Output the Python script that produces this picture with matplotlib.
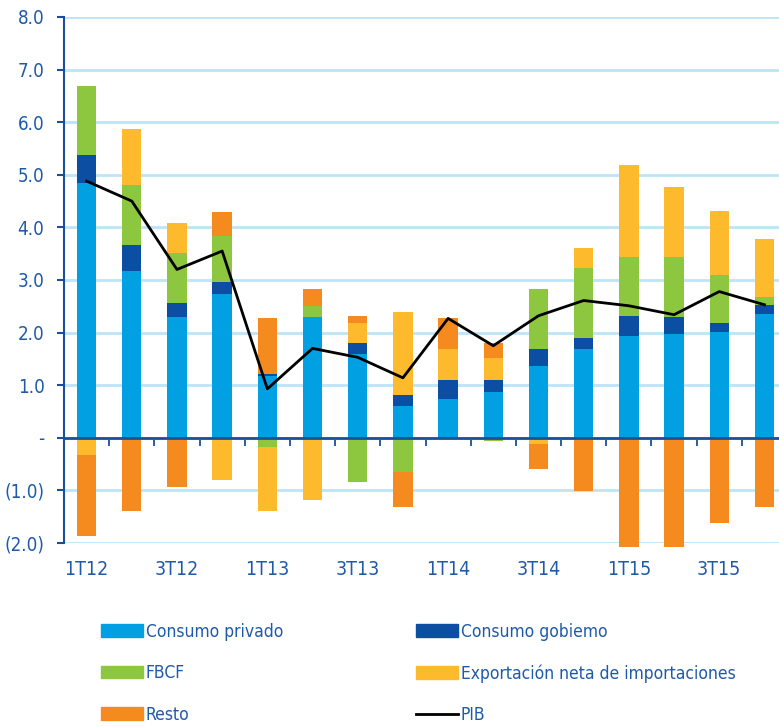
import numpy as np
import matplotlib
matplotlib.use('Agg')
from matplotlib import pyplot as plt
from matplotlib.patches import Patch
from matplotlib.lines import Line2D

plt.rcParams['font.family'] = ['DejaVu Sans']
plt.rcParams['font.stretch'] = 'condensed'

trimestres = ['1T12', '2T12', '3T12', '4T12', '1T13', '2T13', '3T13', '4T13',
              '1T14', '2T14', '3T14', '4T14', '1T15', '2T15', '3T15', '4T15']

consumo_privado = [4.84, 3.18, 2.29, 2.74, 1.18, 2.29, 1.60, 0.61, 0.74, 0.88, 1.37, 1.68, 1.94, 1.98, 2.02, 2.36]
consumo_gobierno = [0.53, 0.48, 0.28, 0.23, 0.04, 0.00, 0.21, 0.21, 0.35, 0.21, 0.31, 0.22, 0.38, 0.31, 0.17, 0.17]
fbcf = [1.32, 1.14, 0.95, 0.86, -0.17, 0.21, -0.84, -0.65, 0.00, -0.07, 1.15, 1.32, 1.11, 1.14, 0.90, 0.14]
exportacion = [-0.32, 1.07, 0.56, -0.80, -1.22, -1.18, 0.38, 1.58, 0.59, 0.42, -0.12, 0.38, 1.75, 1.33, 1.23, 1.10]
resto = [-1.55, -1.39, -0.93, 0.46, 1.05, 0.33, 0.13, -0.66, 0.59, 0.30, -0.47, -1.01, -2.08, -2.08, -1.62, -1.31]
pib = [4.88, 4.50, 3.20, 3.55, 0.93, 1.70, 1.53, 1.14, 2.27, 1.75, 2.32, 2.61, 2.51, 2.34, 2.78, 2.53]

series = [
    ('Consumo privado', consumo_privado, '#00A0E3'),
    ('Consumo gobiemo', consumo_gobierno, '#0B4EA2'),
    ('FBCF', fbcf, '#8DC63F'),
    ('Exportación neta de importaciones', exportacion, '#FDBA2C'),
    ('Resto', resto, '#F58A1F'),
]

txt_color = '#1F5AA8'
axis_color = '#1A4F9C'
grid_color = '#BDE5F7'

fig = plt.figure(figsize=(7.79, 7.27), dpi=100)
ax = fig.add_axes([64 / 779, 184 / 727, 723 / 779, 526 / 727])

x = np.arange(len(trimestres))
pos_base = np.zeros(len(x))
neg_base = np.zeros(len(x))
for name, vals, col in series:
    v = np.array(vals)
    bottom = np.where(v >= 0, pos_base, neg_base)
    ax.bar(x, v, width=0.43, bottom=bottom, color=col, edgecolor='none',
           label=name, zorder=2, clip_on=False)
    pos_base = pos_base + np.where(v > 0, v, 0)
    neg_base = neg_base + np.where(v < 0, v, 0)

ax.plot(x, pib, color='black', lw=2, zorder=3, label='PIB')

ax.set_xlim(-0.5, len(x) - 0.5)
ax.set_ylim(-2.0, 8.0)
ax.set_yticks(np.arange(-2, 9, 1))


def fmt(v, p):
    if abs(v) < 1e-9:
        return '-'
    if v < 0:
        return '(%.1f)' % abs(v)
    return '%.1f' % v


ax.yaxis.set_major_formatter(plt.FuncFormatter(fmt))
ax.grid(axis='y', color=grid_color, lw=2, zorder=0)
ax.set_axisbelow(True)

for s in ['top', 'right']:
    ax.spines[s].set_visible(False)
ax.spines['left'].set_color(axis_color)
ax.spines['left'].set_linewidth(1.5)
ax.spines['bottom'].set_position(('data', 0))
ax.spines['bottom'].set_color(axis_color)
ax.spines['bottom'].set_linewidth(2)
ax.spines['bottom'].set_zorder(4)

ax.tick_params(axis='y', direction='out', length=5, width=1.5, color=axis_color,
               labelcolor=txt_color, labelsize=13.5, pad=9)
ax.set_xticks([])
ax.set_xticks(x[:-1] + 0.5, minor=True)
ax.tick_params(axis='x', which='minor', direction='out', length=6, width=1.3,
               color=axis_color)

sec = ax.secondary_xaxis('bottom')
sec.spines['bottom'].set_visible(False)
sec.set_xticks(x[::2])
sec.set_xticklabels(trimestres[::2])
sec.tick_params(length=0, labelcolor=txt_color, labelsize=14, pad=12)

handles = [Patch(color=c) for _, _, c in series] + [Line2D([], [], color='black', lw=2)]
labels = [n for n, _, _ in series] + ['PIB']
leg_kw = dict(frameon=False, fontsize=12.5, handlelength=2.45, handleheight=0.7,
              handletextpad=0.15, labelspacing=1.35, labelcolor=txt_color, loc='upper left')
fig.legend([handles[0], handles[2], handles[4]], [labels[0], labels[2], labels[4]],
           bbox_to_anchor=(85 / 779, 1 - 607 / 727), **leg_kw)
fig.legend([handles[1], handles[3], handles[5]], [labels[1], labels[3], labels[5]],
           bbox_to_anchor=(400 / 779, 1 - 607 / 727), **leg_kw)

fig.savefig('out.png', dpi=100)
